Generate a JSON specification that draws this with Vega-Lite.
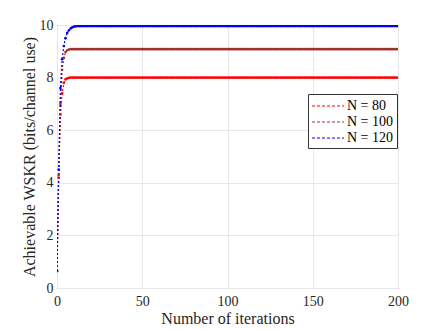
{
"$schema": "https://vega.github.io/schema/vega-lite/v6.json",
"width": 341, "height": 263,
"autosize": {"type": "none"},
"padding": {"left": 57, "top": 25, "right": 42, "bottom": 42},
"background": "white",
"config": {
  "view": {"stroke": "#555555", "strokeWidth": 1},
  "axis": {"labelFont": "Liberation Serif", "titleFont": "Liberation Serif", "labelFontSize": 14, "titleFontSize": 16, "titleFontWeight": "normal", "labelColor": "#262626", "titleColor": "#262626", "gridColor": "#e6e6e6", "domain": false, "ticks": false},
  "legend": {"labelFont": "Liberation Serif", "labelFontSize": 14, "labelColor": "#000000", "labelFontWeight": "normal"}
},
"data": {"values": [
{"x":0,"a":0.65,"b":0.65,"c":0.65},
{"x":1,"a":4.2,"b":4.3,"c":4.5},
{"x":2,"a":6.6,"b":7.0,"c":7.6},
{"x":3,"a":7.4,"b":8.3,"c":8.7},
{"x":4,"a":7.8,"b":8.75,"c":9.2},
{"x":5,"a":7.93,"b":8.97,"c":9.5},
{"x":6,"a":7.97,"b":9.04,"c":9.7},
{"x":7,"a":7.99,"b":9.07,"c":9.8},
{"x":8,"a":8.0,"b":9.08,"c":9.87},
{"x":9,"a":8.0,"b":9.08,"c":9.91},
{"x":10,"a":8.0,"b":9.08,"c":9.94},
{"x":11,"a":8.0,"b":9.08,"c":9.95},
{"x":12,"a":8.0,"b":9.08,"c":9.96},
{"x":13,"a":8.0,"b":9.08,"c":9.96},
{"x":14,"a":8.0,"b":9.08,"c":9.96},
{"x":15,"a":8.0,"b":9.08,"c":9.96},
{"x":16,"a":8.0,"b":9.08,"c":9.96},
{"x":17,"a":8.0,"b":9.08,"c":9.96},
{"x":18,"a":8.0,"b":9.08,"c":9.96},
{"x":19,"a":8.0,"b":9.08,"c":9.96},
{"x":20,"a":8.0,"b":9.08,"c":9.96},
{"x":21,"a":8.0,"b":9.08,"c":9.96},
{"x":22,"a":8.0,"b":9.08,"c":9.96},
{"x":23,"a":8.0,"b":9.08,"c":9.96},
{"x":24,"a":8.0,"b":9.08,"c":9.96},
{"x":25,"a":8.0,"b":9.08,"c":9.96},
{"x":26,"a":8.0,"b":9.08,"c":9.96},
{"x":27,"a":8.0,"b":9.08,"c":9.96},
{"x":28,"a":8.0,"b":9.08,"c":9.96},
{"x":29,"a":8.0,"b":9.08,"c":9.96},
{"x":30,"a":8.0,"b":9.08,"c":9.96},
{"x":31,"a":8.0,"b":9.08,"c":9.96},
{"x":32,"a":8.0,"b":9.08,"c":9.96},
{"x":33,"a":8.0,"b":9.08,"c":9.96},
{"x":34,"a":8.0,"b":9.08,"c":9.96},
{"x":35,"a":8.0,"b":9.08,"c":9.96},
{"x":36,"a":8.0,"b":9.08,"c":9.96},
{"x":37,"a":8.0,"b":9.08,"c":9.96},
{"x":38,"a":8.0,"b":9.08,"c":9.96},
{"x":39,"a":8.0,"b":9.08,"c":9.96},
{"x":40,"a":8.0,"b":9.08,"c":9.96},
{"x":41,"a":8.0,"b":9.08,"c":9.96},
{"x":42,"a":8.0,"b":9.08,"c":9.96},
{"x":43,"a":8.0,"b":9.08,"c":9.96},
{"x":44,"a":8.0,"b":9.08,"c":9.96},
{"x":45,"a":8.0,"b":9.08,"c":9.96},
{"x":46,"a":8.0,"b":9.08,"c":9.96},
{"x":47,"a":8.0,"b":9.08,"c":9.96},
{"x":48,"a":8.0,"b":9.08,"c":9.96},
{"x":49,"a":8.0,"b":9.08,"c":9.96},
{"x":50,"a":8.0,"b":9.08,"c":9.96},
{"x":51,"a":8.0,"b":9.08,"c":9.96},
{"x":52,"a":8.0,"b":9.08,"c":9.96},
{"x":53,"a":8.0,"b":9.08,"c":9.96},
{"x":54,"a":8.0,"b":9.08,"c":9.96},
{"x":55,"a":8.0,"b":9.08,"c":9.96},
{"x":56,"a":8.0,"b":9.08,"c":9.96},
{"x":57,"a":8.0,"b":9.08,"c":9.96},
{"x":58,"a":8.0,"b":9.08,"c":9.96},
{"x":59,"a":8.0,"b":9.08,"c":9.96},
{"x":60,"a":8.0,"b":9.08,"c":9.96},
{"x":61,"a":8.0,"b":9.08,"c":9.96},
{"x":62,"a":8.0,"b":9.08,"c":9.96},
{"x":63,"a":8.0,"b":9.08,"c":9.96},
{"x":64,"a":8.0,"b":9.08,"c":9.96},
{"x":65,"a":8.0,"b":9.08,"c":9.96},
{"x":66,"a":8.0,"b":9.08,"c":9.96},
{"x":67,"a":8.0,"b":9.08,"c":9.96},
{"x":68,"a":8.0,"b":9.08,"c":9.96},
{"x":69,"a":8.0,"b":9.08,"c":9.96},
{"x":70,"a":8.0,"b":9.08,"c":9.96},
{"x":71,"a":8.0,"b":9.08,"c":9.96},
{"x":72,"a":8.0,"b":9.08,"c":9.96},
{"x":73,"a":8.0,"b":9.08,"c":9.96},
{"x":74,"a":8.0,"b":9.08,"c":9.96},
{"x":75,"a":8.0,"b":9.08,"c":9.96},
{"x":76,"a":8.0,"b":9.08,"c":9.96},
{"x":77,"a":8.0,"b":9.08,"c":9.96},
{"x":78,"a":8.0,"b":9.08,"c":9.96},
{"x":79,"a":8.0,"b":9.08,"c":9.96},
{"x":80,"a":8.0,"b":9.08,"c":9.96},
{"x":81,"a":8.0,"b":9.08,"c":9.96},
{"x":82,"a":8.0,"b":9.08,"c":9.96},
{"x":83,"a":8.0,"b":9.08,"c":9.96},
{"x":84,"a":8.0,"b":9.08,"c":9.96},
{"x":85,"a":8.0,"b":9.08,"c":9.96},
{"x":86,"a":8.0,"b":9.08,"c":9.96},
{"x":87,"a":8.0,"b":9.08,"c":9.96},
{"x":88,"a":8.0,"b":9.08,"c":9.96},
{"x":89,"a":8.0,"b":9.08,"c":9.96},
{"x":90,"a":8.0,"b":9.08,"c":9.96},
{"x":91,"a":8.0,"b":9.08,"c":9.96},
{"x":92,"a":8.0,"b":9.08,"c":9.96},
{"x":93,"a":8.0,"b":9.08,"c":9.96},
{"x":94,"a":8.0,"b":9.08,"c":9.96},
{"x":95,"a":8.0,"b":9.08,"c":9.96},
{"x":96,"a":8.0,"b":9.08,"c":9.96},
{"x":97,"a":8.0,"b":9.08,"c":9.96},
{"x":98,"a":8.0,"b":9.08,"c":9.96},
{"x":99,"a":8.0,"b":9.08,"c":9.96},
{"x":100,"a":8.0,"b":9.08,"c":9.96},
{"x":101,"a":8.0,"b":9.08,"c":9.96},
{"x":102,"a":8.0,"b":9.08,"c":9.96},
{"x":103,"a":8.0,"b":9.08,"c":9.96},
{"x":104,"a":8.0,"b":9.08,"c":9.96},
{"x":105,"a":8.0,"b":9.08,"c":9.96},
{"x":106,"a":8.0,"b":9.08,"c":9.96},
{"x":107,"a":8.0,"b":9.08,"c":9.96},
{"x":108,"a":8.0,"b":9.08,"c":9.96},
{"x":109,"a":8.0,"b":9.08,"c":9.96},
{"x":110,"a":8.0,"b":9.08,"c":9.96},
{"x":111,"a":8.0,"b":9.08,"c":9.96},
{"x":112,"a":8.0,"b":9.08,"c":9.96},
{"x":113,"a":8.0,"b":9.08,"c":9.96},
{"x":114,"a":8.0,"b":9.08,"c":9.96},
{"x":115,"a":8.0,"b":9.08,"c":9.96},
{"x":116,"a":8.0,"b":9.08,"c":9.96},
{"x":117,"a":8.0,"b":9.08,"c":9.96},
{"x":118,"a":8.0,"b":9.08,"c":9.96},
{"x":119,"a":8.0,"b":9.08,"c":9.96},
{"x":120,"a":8.0,"b":9.08,"c":9.96},
{"x":121,"a":8.0,"b":9.08,"c":9.96},
{"x":122,"a":8.0,"b":9.08,"c":9.96},
{"x":123,"a":8.0,"b":9.08,"c":9.96},
{"x":124,"a":8.0,"b":9.08,"c":9.96},
{"x":125,"a":8.0,"b":9.08,"c":9.96},
{"x":126,"a":8.0,"b":9.08,"c":9.96},
{"x":127,"a":8.0,"b":9.08,"c":9.96},
{"x":128,"a":8.0,"b":9.08,"c":9.96},
{"x":129,"a":8.0,"b":9.08,"c":9.96},
{"x":130,"a":8.0,"b":9.08,"c":9.96},
{"x":131,"a":8.0,"b":9.08,"c":9.96},
{"x":132,"a":8.0,"b":9.08,"c":9.96},
{"x":133,"a":8.0,"b":9.08,"c":9.96},
{"x":134,"a":8.0,"b":9.08,"c":9.96},
{"x":135,"a":8.0,"b":9.08,"c":9.96},
{"x":136,"a":8.0,"b":9.08,"c":9.96},
{"x":137,"a":8.0,"b":9.08,"c":9.96},
{"x":138,"a":8.0,"b":9.08,"c":9.96},
{"x":139,"a":8.0,"b":9.08,"c":9.96},
{"x":140,"a":8.0,"b":9.08,"c":9.96},
{"x":141,"a":8.0,"b":9.08,"c":9.96},
{"x":142,"a":8.0,"b":9.08,"c":9.96},
{"x":143,"a":8.0,"b":9.08,"c":9.96},
{"x":144,"a":8.0,"b":9.08,"c":9.96},
{"x":145,"a":8.0,"b":9.08,"c":9.96},
{"x":146,"a":8.0,"b":9.08,"c":9.96},
{"x":147,"a":8.0,"b":9.08,"c":9.96},
{"x":148,"a":8.0,"b":9.08,"c":9.96},
{"x":149,"a":8.0,"b":9.08,"c":9.96},
{"x":150,"a":8.0,"b":9.08,"c":9.96},
{"x":151,"a":8.0,"b":9.08,"c":9.96},
{"x":152,"a":8.0,"b":9.08,"c":9.96},
{"x":153,"a":8.0,"b":9.08,"c":9.96},
{"x":154,"a":8.0,"b":9.08,"c":9.96},
{"x":155,"a":8.0,"b":9.08,"c":9.96},
{"x":156,"a":8.0,"b":9.08,"c":9.96},
{"x":157,"a":8.0,"b":9.08,"c":9.96},
{"x":158,"a":8.0,"b":9.08,"c":9.96},
{"x":159,"a":8.0,"b":9.08,"c":9.96},
{"x":160,"a":8.0,"b":9.08,"c":9.96},
{"x":161,"a":8.0,"b":9.08,"c":9.96},
{"x":162,"a":8.0,"b":9.08,"c":9.96},
{"x":163,"a":8.0,"b":9.08,"c":9.96},
{"x":164,"a":8.0,"b":9.08,"c":9.96},
{"x":165,"a":8.0,"b":9.08,"c":9.96},
{"x":166,"a":8.0,"b":9.08,"c":9.96},
{"x":167,"a":8.0,"b":9.08,"c":9.96},
{"x":168,"a":8.0,"b":9.08,"c":9.96},
{"x":169,"a":8.0,"b":9.08,"c":9.96},
{"x":170,"a":8.0,"b":9.08,"c":9.96},
{"x":171,"a":8.0,"b":9.08,"c":9.96},
{"x":172,"a":8.0,"b":9.08,"c":9.96},
{"x":173,"a":8.0,"b":9.08,"c":9.96},
{"x":174,"a":8.0,"b":9.08,"c":9.96},
{"x":175,"a":8.0,"b":9.08,"c":9.96},
{"x":176,"a":8.0,"b":9.08,"c":9.96},
{"x":177,"a":8.0,"b":9.08,"c":9.96},
{"x":178,"a":8.0,"b":9.08,"c":9.96},
{"x":179,"a":8.0,"b":9.08,"c":9.96},
{"x":180,"a":8.0,"b":9.08,"c":9.96},
{"x":181,"a":8.0,"b":9.08,"c":9.96},
{"x":182,"a":8.0,"b":9.08,"c":9.96},
{"x":183,"a":8.0,"b":9.08,"c":9.96},
{"x":184,"a":8.0,"b":9.08,"c":9.96},
{"x":185,"a":8.0,"b":9.08,"c":9.96},
{"x":186,"a":8.0,"b":9.08,"c":9.96},
{"x":187,"a":8.0,"b":9.08,"c":9.96},
{"x":188,"a":8.0,"b":9.08,"c":9.96},
{"x":189,"a":8.0,"b":9.08,"c":9.96},
{"x":190,"a":8.0,"b":9.08,"c":9.96},
{"x":191,"a":8.0,"b":9.08,"c":9.96},
{"x":192,"a":8.0,"b":9.08,"c":9.96},
{"x":193,"a":8.0,"b":9.08,"c":9.96},
{"x":194,"a":8.0,"b":9.08,"c":9.96},
{"x":195,"a":8.0,"b":9.08,"c":9.96},
{"x":196,"a":8.0,"b":9.08,"c":9.96},
{"x":197,"a":8.0,"b":9.08,"c":9.96},
{"x":198,"a":8.0,"b":9.08,"c":9.96},
{"x":199,"a":8.0,"b":9.08,"c":9.96},
{"x":200,"a":8.0,"b":9.08,"c":9.96}
]},
"transform": [{"fold": ["a", "b", "c"], "as": ["series", "value"]}],
"mark": {"type": "line", "strokeDash": [2, 2], "strokeWidth": 1.2, "clip": true, "point": {"filled": true, "size": 7, "opacity": 1}},
"encoding": {
  "x": {"field": "x", "type": "quantitative", "scale": {"domain": [0, 200], "nice": false, "zero": false}, "axis": {"values": [0, 50, 100, 150, 200], "title": "Number of iterations", "labelPadding": 6, "titlePadding": 2, "labelFlush": false}},
  "y": {"field": "value", "type": "quantitative", "scale": {"domain": [0, 10], "nice": false}, "axis": {"values": [0, 2, 4, 6, 8, 10], "title": "Achievable WSKR (bits/channel use)", "labelPadding": 4, "titlePadding": 2, "labelFlush": false}},
  "color": {"field": "series", "type": "nominal", "scale": {"domain": ["a", "b", "c"], "range": ["#ff0000", "#a0302c", "#0000ff"]},
    "legend": {"title": null, "orient": "none", "legendX": 251, "legendY": 69, "labelExpr": "datum.value == 'a' ? 'N = 80' : datum.value == 'b' ? 'N = 100' : 'N = 120'", "symbolType": "M-2,0H2", "symbolDash": [3, 2], "symbolStrokeWidth": 1.2, "symbolSize": 256, "strokeColor": "#333333", "fillColor": "white", "padding": 3, "rowPadding": 0, "labelOffset": 10, "symbolOffset": 8}}
}
}
